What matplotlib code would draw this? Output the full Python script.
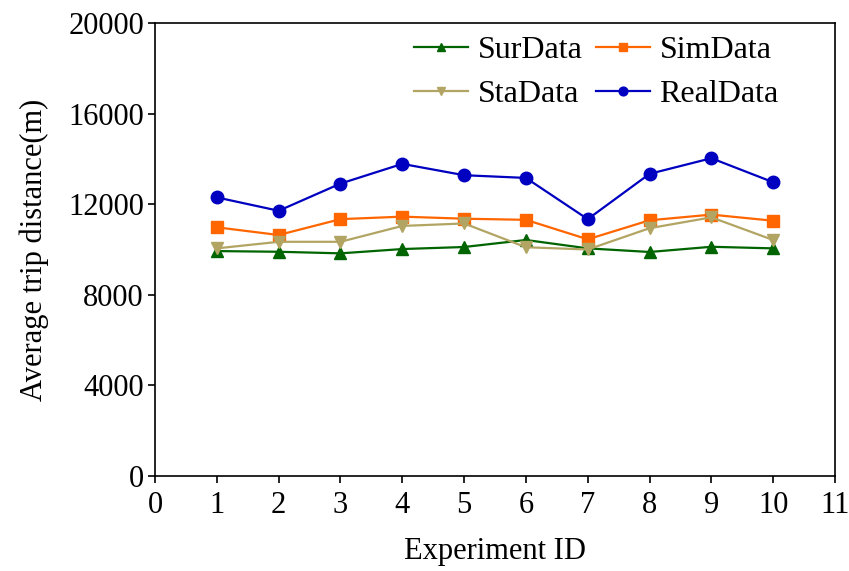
import matplotlib
matplotlib.use("Agg")
import matplotlib.pyplot as plt

plt.rcParams['font.family'] = ['Liberation Serif', 'DejaVu Serif']

# Values
experiment_ids = [1, 2, 3, 4, 5, 6, 7, 8, 9, 10]
sur_data = [9930, 9900, 9830, 10020, 10110, 10420, 10050, 9890, 10120, 10050]
sim_data = [10980, 10640, 11340, 11450, 11360, 11310, 10450, 11290, 11540, 11270]
sta_data = [10050, 10340, 10340, 11040, 11150, 10100, 10000, 10940, 11420, 10420]
real_data = [12300, 11710, 12910, 13780, 13280, 13160, 11340, 13340, 14030, 12970]

fig = plt.figure(figsize=(8.49, 5.71), dpi=100)
ax = fig.add_axes([0.1826, 0.1664, 0.8009, 0.7933])

lw = 1.6
l_sur, = ax.plot(experiment_ids, sur_data, color='#006400', marker='^', markersize=9, linewidth=lw, label='SurData')
l_sim, = ax.plot(experiment_ids, sim_data, color='#FF6600', marker='s', markersize=9, linewidth=lw, label='SimData')
l_sta, = ax.plot(experiment_ids, sta_data, color='#B2A564', marker='v', markersize=9, linewidth=lw, label='StaData')
l_real, = ax.plot(experiment_ids, real_data, color='#0000C0', marker='o', markersize=9, linewidth=lw, label='RealData')

ax.set_xlim(0, 11)
ax.set_ylim(0, 20000)
ax.set_xticks(range(0, 12))
ax.set_yticks(range(0, 20001, 4000))
ax.tick_params(direction='out', length=5, width=1.2, labelsize=22, top=False, right=False)
ax.tick_params(axis='x', pad=6)
ax.tick_params(axis='y', pad=3)
for s in ax.spines.values():
    s.set_linewidth(1.2)

ax.set_xlabel('Experiment ID', fontsize=22, labelpad=12)
ax.set_ylabel('Average trip distance(m)', fontsize=22, labelpad=14)

# row-wise order: SurData SimData / StaData RealData
ax.legend([l_sur, l_sta, l_sim, l_real], ['SurData', 'StaData', 'SimData', 'RealData'],
          loc='upper left', bbox_to_anchor=(0.381, 0.972), ncol=2, frameon=False,
          borderpad=0, borderaxespad=0,
          fontsize=23, handlelength=1.7, handletextpad=0.3, columnspacing=0.4,
          labelspacing=0.45, markerscale=0.7)

fig.savefig('out.png', dpi=100)
